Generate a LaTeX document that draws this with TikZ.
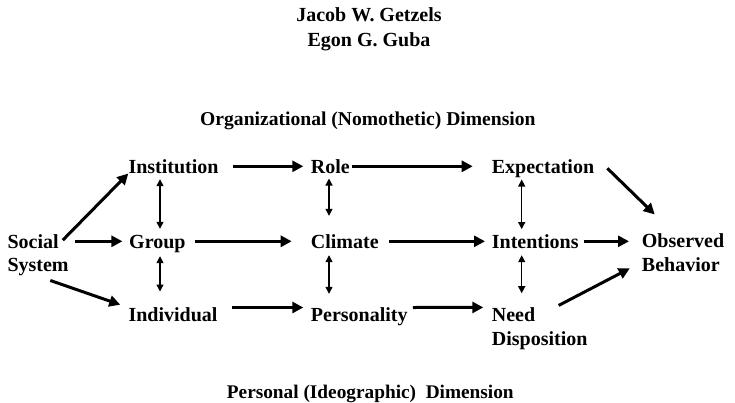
\documentclass[tikz,border=0pt]{standalone}
\usepackage{fontspec}
\setmainfont{Liberation Serif}
\usetikzlibrary{arrows.meta}

\tikzset{
  lbl/.style={inner sep=0pt, anchor=base west, font=\bfseries\fontsize{20}{23.5}\selectfont},
  one/.style={lbl, text height=14pt, text depth=0pt},
  two/.style={lbl, align=left},
  dimlbl/.style={lbl, font=\bfseries\fontsize{19.6}{23.5}\selectfont},
  flow/.style={line width=3pt, -{Triangle[length=11pt,width=11pt]}},
  link/.style={line width=1.3pt, {Triangle[length=7pt,width=7pt]}-{Triangle[length=7pt,width=7pt]}},
}

\begin{document}
\begin{tikzpicture}[x=1pt,y=-1pt]
    \useasboundingbox (0,0) rectangle (735,402);

    % authors (base = last line)
    \node[lbl, anchor=base, align=center, font=\bfseries\fontsize{20}{25}\selectfont] (authors) at (369,46) {Jacob W. Getzels\\Egon G. Guba};

    % dimension labels
    \node[dimlbl] (nomo) at (200,125) {Organizational (Nomothetic) Dimension};
    \node[dimlbl, font=\bfseries\fontsize{19.3}{23.5}\selectfont] (ideo) at (226.7,398) {Personal (Ideographic)\ \ Dimension};

    % left label
    \node[two] (soc) at (7.3,271.7) {Social\\System};

    % first column
    \node[one] (inst) at (128.3,173.3) {Institution};
    \node[one] (grp) at (129,248.3) {Group};
    \node[one] (ind) at (128.3,321.7) {Individual};

    % second column
    \node[one] (role) at (310.7,173.3) {Role};
    \node[one] (clim) at (310.7,248.3) {Climate};
    \node[one] (pers) at (310.7,321.7) {Personality};

    % third column
    \node[one] (expect) at (491.7,173.3) {Expectation};
    \node[one] (intent) at (491.7,248.3) {Intentions};
    \node[two] (need) at (491.7,345) {Need\\Disposition};

    % right label
    \node[two] (obs) at (641.7,271) {Observed\\Behavior};

    % arrows out of social system
    \draw[flow] ([shift={(-6,6)}]soc.north east) -- (inst.south west);
    \draw[flow, shorten <=6pt, shorten >=6.6pt] (soc.east |- grp.east) -- (grp.west);
    \draw[flow, shorten <=13pt, shorten >=8.5pt] (soc.south) -- (ind.north west);

    % nomothetic row
    \draw[flow, shorten <=14pt, shorten >=7.4pt] (inst.east) -- (role.west);
    \draw[flow, shorten <=2pt, shorten >=19pt] (role.east) -- (expect.west);

    % middle row
    \draw[flow, shorten <=9pt, shorten >=19pt] (grp.east) -- (clim.west);
    \draw[flow, shorten <=10pt, shorten >=6.7pt] (clim.east) -- (intent.west);
    \draw[flow, shorten <=5pt, shorten >=12.7pt] (intent.east) -- (intent.east -| obs.west);

    % ideographic row
    \draw[flow, shorten <=14pt, shorten >=7.4pt] (ind.north east) -- (pers.north west);
    \draw[flow, shorten <=5pt, shorten >=8.4pt] (pers.north east) -- (need.north west);

    % into observed behavior
    \draw[flow] ([shift={(13,2)}]expect.east) -- ([shift={(13,-19)}]obs.north west);
    \draw[flow] ([shift={(19,-2)}]need.north) -- ([shift={(-12,-3)}]obs.south west);

    % two-way links
    \draw[link, shorten <=5.7pt, shorten >=5.3pt] ([xshift=31.7pt]inst.south west) -- ([xshift=31pt]grp.north west);
    \draw[link, shorten <=7.7pt, shorten >=16pt] ([xshift=31pt]grp.south west) -- ([xshift=31.7pt]ind.north west);
    \draw[link, shorten <=5pt, shorten >=18.3pt] ([xshift=18.3pt]role.south west) -- ([xshift=18.3pt]clim.north west);
    \draw[link, shorten <=6.7pt, shorten >=13.7pt] ([xshift=18.3pt]clim.south west) -- ([xshift=18.3pt]pers.north west);
    \draw[link, shorten <=6pt, shorten >=5pt] ([xshift=30pt]expect.south west) -- ([xshift=30pt]intent.north west);
    \draw[link, shorten <=6.7pt, shorten >=14.2pt] ([xshift=30pt]intent.south west) -- ([xshift=30pt]need.north west);
\end{tikzpicture}
\end{document}
